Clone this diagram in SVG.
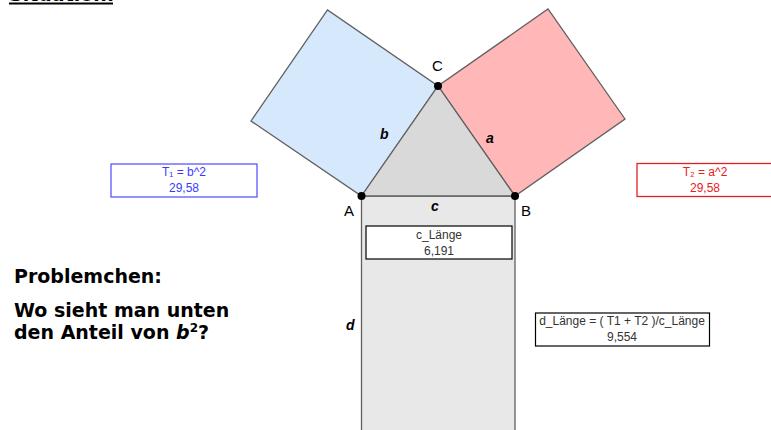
<svg xmlns="http://www.w3.org/2000/svg" width="771" height="430" viewBox="0 0 771 430">
<style>
  .edge{stroke:#606060;stroke-width:1.3;stroke-linejoin:miter}
  .pt{fill:#000}
  .lbl{font-family:"Liberation Sans",Arial,sans-serif;font-size:15px;fill:#000}
  .seg{font-family:"Liberation Sans",Arial,sans-serif;font-size:14px;font-weight:bold;font-style:italic;fill:#000}
  .box{font-family:"Liberation Sans",Arial,sans-serif;font-size:12px;text-anchor:middle}
  .big{font-family:"DejaVu Sans",Verdana,sans-serif;font-size:19px;font-weight:bold;fill:#000}
</style>
<rect width="771" height="430" fill="#fff"/>
<g id="title">
  <text class="big" x="9" y="1">Situation:</text>
  <line x1="9" y1="3.5" x2="113" y2="3.5" stroke="#000" stroke-width="2"/>
</g>
<g id="rectangle-d">
  <rect x="361.5" y="196" width="153.5" height="240" fill="#e8e8e8" class="edge"/>
</g>
<g id="square-b">
  <polygon points="361.5,196 438,86 327.5,10 251,121" fill="#d6e8fc" class="edge"/>
</g>
<g id="square-a">
  <polygon points="438,86 515,196 625,119 548,9" fill="#ffb7b7" class="edge"/>
</g>
<g id="triangle">
  <polygon points="361.5,196 515,196 438,86" fill="#d9d9d9" class="edge"/>
</g>
<g id="points">
  <circle class="pt" cx="361.5" cy="196" r="4"/>
  <circle class="pt" cx="515" cy="196" r="4"/>
  <circle class="pt" cx="438" cy="86" r="4"/>
  <text class="lbl" x="344" y="216">A</text>
  <text class="lbl" x="521" y="216">B</text>
  <text class="lbl" x="432" y="71">C</text>
</g>
<g id="segment-labels">
  <text class="seg" x="380" y="139">b</text>
  <text class="seg" x="486" y="143">a</text>
  <text class="seg" x="431" y="211">c</text>
  <text class="seg" x="346" y="330">d</text>
</g>
<g id="box-T1">
  <rect x="111" y="164" width="146" height="33" fill="#fff" stroke="#5a5aff" stroke-width="1.3"/>
  <text class="box" x="184" y="176" fill="#3a3aff">T₁ = b^2</text>
  <text class="box" x="184" y="192" fill="#3a3aff">29,58</text>
</g>
<g id="box-T2">
  <rect x="637" y="163.5" width="140" height="33" fill="#fff" stroke="#e02020" stroke-width="1.3"/>
  <text class="box" x="705" y="176" fill="#e82020">T₂ = a^2</text>
  <text class="box" x="705" y="192" fill="#e82020">29,58</text>
</g>
<g id="box-c">
  <rect x="366" y="226" width="146" height="33" fill="#fff" stroke="#000" stroke-width="1.2"/>
  <text class="box" x="439" y="239" fill="#333">c_Länge</text>
  <text class="box" x="439" y="255" fill="#333">6,191</text>
</g>
<g id="box-d">
  <rect x="535.5" y="313" width="174" height="33" fill="#fff" stroke="#000" stroke-width="1.2"/>
  <text class="box" x="622" y="325" fill="#333">d_Länge = ( T1 + T2 )/c_Länge</text>
  <text class="box" x="622" y="341" fill="#333">9,554</text>
</g>
<g id="question">
  <text class="big" x="14" y="283">Problemchen:</text>
  <text class="big" x="14" y="317">Wo sieht man unten</text>
  <text class="big" x="14" y="339">den Anteil von <tspan font-style="italic">b</tspan><tspan font-size="12" dy="-7">2</tspan><tspan dy="7">?</tspan></text>
</g>
<g id="connectors"/>
</svg>
